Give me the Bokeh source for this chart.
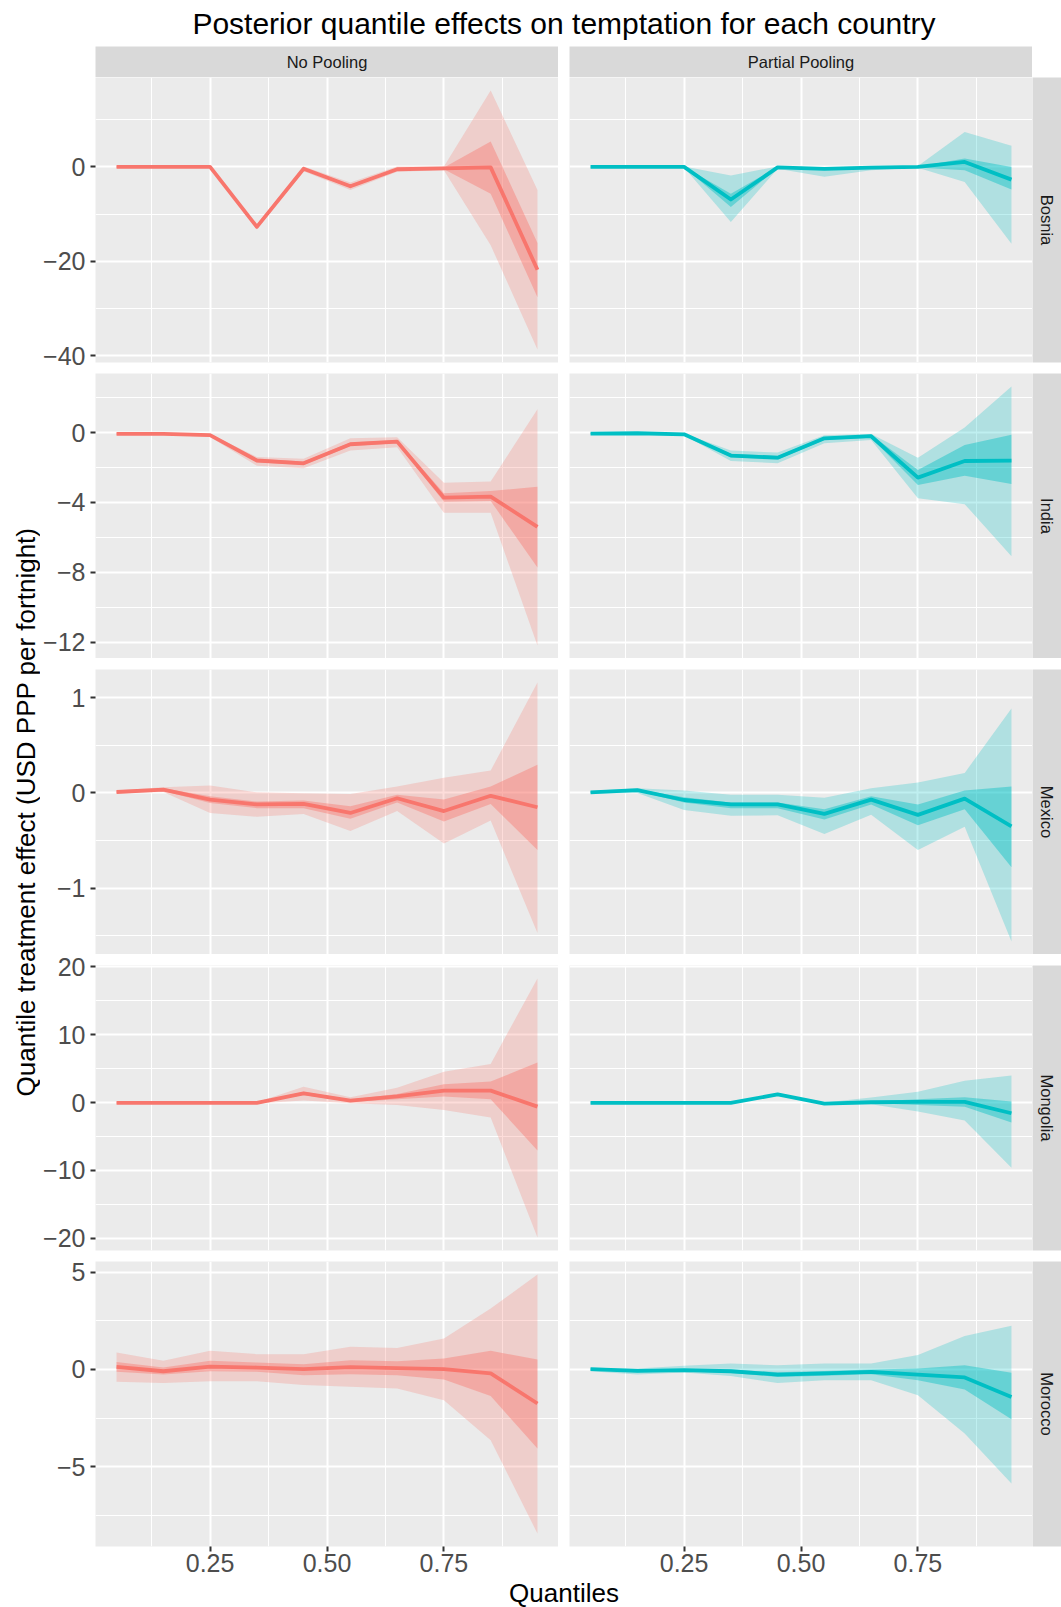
import math

from bokeh.core.properties import value
from bokeh.embed import file_html
from bokeh.layouts import column, row
from bokeh.models import FixedTicker, Range1d, Spacer
from bokeh.plotting import figure
from bokeh.resources import INLINE

# ---------------------------------------------------------------- data
quantiles = [0.05, 0.15, 0.25, 0.35, 0.45, 0.55, 0.65, 0.75, 0.85, 0.95]
countries = ["Bosnia", "India", "Mexico", "Mongolia", "Morocco"]
models = ["No Pooling", "Partial Pooling"]

bosnia_no_pooling = dict(
    median=[0.0, 0.0, 0.0, -12.7, -0.4, -4.1, -0.5, -0.3, -0.1, -21.8],
    lo50=[-0.1, -0.1, -0.1, -12.9, -0.6, -4.4, -0.7, -0.5, -5.7, -27.6],
    hi50=[0.1, 0.1, 0.1, -12.5, -0.2, -3.8, -0.3, -0.1, 5.4, -16.1],
    lo95=[-0.2, -0.2, -0.2, -13.2, -0.9, -4.9, -1.0, -0.7, -16.6, -38.7],
    hi95=[0.2, 0.2, 0.2, -12.2, 0.1, -3.3, 0.1, 0.1, 16.2, -4.9],
)
bosnia_partial_pooling = dict(
    median=[0.0, 0.0, 0.0, -6.9, -0.1, -0.4, -0.15, 0.0, 1.05, -2.7],
    lo50=[-0.05, -0.05, -0.05, -8.5, -0.2, -0.6, -0.3, -0.1, -0.7, -4.8],
    hi50=[0.05, 0.05, 0.05, -5.7, 0.0, -0.2, 0.0, 0.1, 1.8, 0.0],
    lo95=[-0.1, -0.1, -0.1, -11.7, -0.4, -2.1, -0.7, -0.2, -3.2, -16.3],
    hi95=[0.1, 0.1, 0.1, -1.8, 0.1, -0.1, 0.2, 0.2, 7.4, 4.5],
)
india_no_pooling = dict(
    median=[-0.08, -0.08, -0.15, -1.6, -1.76, -0.67, -0.52, -3.73, -3.67, -5.4],
    lo50=[-0.1, -0.1, -0.2, -1.7, -1.86, -0.77, -0.62, -3.96, -3.92, -7.73],
    hi50=[-0.06, -0.06, -0.1, -1.5, -1.66, -0.57, -0.42, -3.48, -3.35, -3.1],
    lo95=[-0.12, -0.12, -0.25, -1.9, -2.05, -1.03, -0.84, -4.6, -4.6, -12.2],
    hi95=[-0.04, -0.04, -0.08, -1.4, -1.5, -0.33, -0.27, -2.87, -2.81, 1.34],
)
india_partial_pooling = dict(
    median=[-0.06, -0.04, -0.1, -1.32, -1.44, -0.33, -0.21, -2.58, -1.63, -1.61],
    lo50=[-0.08, -0.06, -0.13, -1.42, -1.54, -0.42, -0.3, -3.0, -2.47, -2.95],
    hi50=[-0.04, -0.02, -0.07, -1.22, -1.34, -0.25, -0.13, -2.14, -0.71, -0.13],
    lo95=[-0.1, -0.08, -0.16, -1.63, -1.76, -0.61, -0.42, -3.77, -4.1, -7.08],
    hi95=[-0.02, 0.0, -0.05, -1.03, -1.15, -0.15, -0.08, -1.44, 0.29, 2.64],
)
mexico_no_pooling = dict(
    median=[0.01, 0.035, -0.07, -0.12, -0.115, -0.21, -0.056, -0.19, -0.03, -0.15],
    lo50=[0.0, 0.02, -0.105, -0.16, -0.16, -0.27, -0.1, -0.30, -0.116, -0.60],
    hi50=[0.02, 0.05, -0.035, -0.09, -0.08, -0.14, -0.02, -0.07, 0.067, 0.295],
    lo95=[-0.005, 0.01, -0.21, -0.25, -0.22, -0.40, -0.19, -0.53, -0.29, -1.47],
    hi95=[0.025, 0.06, 0.077, 0.007, -0.004, -0.01, 0.067, 0.16, 0.235, 1.16],
)
mexico_partial_pooling = dict(
    median=[0.007, 0.03, -0.074, -0.12, -0.12, -0.22, -0.07, -0.23, -0.06, -0.35],
    lo50=[0.0, 0.02, -0.10, -0.16, -0.16, -0.28, -0.12, -0.34, -0.17, -0.78],
    hi50=[0.015, 0.04, -0.046, -0.10, -0.10, -0.17, -0.035, -0.12, 0.025, 0.067],
    lo95=[-0.005, 0.0, -0.18, -0.24, -0.235, -0.43, -0.23, -0.60, -0.355, -1.56],
    hi95=[0.02, 0.05, 0.025, -0.02, -0.02, -0.05, 0.05, 0.11, 0.21, 0.886],
)
mongolia_no_pooling = dict(
    median=[-0.05, -0.05, -0.05, -0.05, 1.37, 0.3, 0.9, 1.76, 1.76, -0.6],
    lo50=[-0.1, -0.1, -0.1, -0.1, 1.1, 0.1, 0.5, 0.9, 0.5, -7.06],
    hi50=[0.0, 0.0, 0.0, 0.0, 1.6, 0.45, 1.27, 2.7, 3.1, 5.9],
    lo95=[-0.15, -0.15, -0.15, -0.15, 0.3, -0.1, -0.35, -1.08, -2.2, -19.9],
    hi95=[0.05, 0.05, 0.05, 0.05, 2.35, 0.8, 2.2, 4.56, 5.7, 18.3],
)
mongolia_partial_pooling = dict(
    median=[-0.05, -0.05, -0.05, -0.05, 1.2, -0.15, 0.05, 0.1, 0.1, -1.57],
    lo50=[-0.1, -0.1, -0.1, -0.1, 1.1, -0.25, -0.05, -0.35, -0.6, -2.95],
    hi50=[0.0, 0.0, 0.0, 0.0, 1.3, -0.05, 0.15, 0.5, 0.8, 0.15],
    lo95=[-0.15, -0.15, -0.15, -0.15, 1.0, -0.3, -0.25, -1.3, -2.65, -9.6],
    hi95=[0.05, 0.05, 0.05, 0.05, 1.4, 0.0, 0.74, 1.6, 3.2, 4.0],
)
morocco_no_pooling = dict(
    median=[0.14, -0.09, 0.15, 0.1, 0.02, 0.12, 0.07, 0.02, -0.2, -1.75],
    lo50=[-0.12, -0.26, -0.09, -0.12, -0.29, -0.24, -0.29, -0.51, -1.36, -4.07],
    hi50=[0.39, 0.1, 0.45, 0.36, 0.27, 0.48, 0.43, 0.57, 0.96, 0.51],
    lo95=[-0.63, -0.69, -0.6, -0.6, -0.8, -0.89, -0.98, -1.58, -3.64, -8.44],
    hi95=[0.87, 0.45, 0.96, 0.79, 0.79, 1.17, 1.11, 1.6, 3.14, 4.89],
)
morocco_partial_pooling = dict(
    median=[0.02, -0.07, -0.03, -0.09, -0.26, -0.2, -0.12, -0.26, -0.41, -1.41],
    lo50=[-0.03, -0.14, -0.09, -0.18, -0.38, -0.32, -0.24, -0.55, -1.03, -2.56],
    hi50=[0.06, 0.0, 0.03, 0.0, -0.14, -0.08, 0.0, 0.05, 0.22, -0.17],
    lo95=[-0.09, -0.26, -0.15, -0.34, -0.69, -0.55, -0.55, -1.32, -3.29, -5.87],
    hi95=[0.09, 0.05, 0.19, 0.31, 0.22, 0.31, 0.31, 0.74, 1.72, 2.25],
)

series = {
    ("Bosnia", "No Pooling"): bosnia_no_pooling,
    ("Bosnia", "Partial Pooling"): bosnia_partial_pooling,
    ("India", "No Pooling"): india_no_pooling,
    ("India", "Partial Pooling"): india_partial_pooling,
    ("Mexico", "No Pooling"): mexico_no_pooling,
    ("Mexico", "Partial Pooling"): mexico_partial_pooling,
    ("Mongolia", "No Pooling"): mongolia_no_pooling,
    ("Mongolia", "Partial Pooling"): mongolia_partial_pooling,
    ("Morocco", "No Pooling"): morocco_no_pooling,
    ("Morocco", "Partial Pooling"): morocco_partial_pooling,
}

x_ticks = [0.25, 0.5, 0.75]
x_tick_labels = ["0.25", "0.50", "0.75"]
y_ticks = {
    "Bosnia": [-40, -20, 0],
    "India": [-12, -8, -4, 0],
    "Mexico": [-1, 0, 1],
    "Mongolia": [-20, -10, 0, 10, 20],
    "Morocco": [-5, 0, 5],
}
y_tick_labels = {
    "Bosnia": ["\u221240", "\u221220", "0"],
    "India": ["\u221212", "\u22128", "\u22124", "0"],
    "Mexico": ["\u22121", "0", "1"],
    "Mongolia": ["\u221220", "\u221210", "0", "10", "20"],
    "Morocco": ["\u22125", "0", "5"],
}

title = "Posterior quantile effects on temptation for each country"
x_title = "Quantiles"
y_title = "Quantile treatment effect (USD PPP per fortnight)"

# ---------------------------------------------------------------- style
FONT = "Liberation Sans"
COLORS = {"No Pooling": "#F8766D", "Partial Pooling": "#00BFC4"}
PANEL_BG = "#EBEBEB"
STRIP_BG = "#D9D9D9"
TICK_FONT_SIZE = "25px"

TOTAL_H = 1607
YLAB_W = 40
LEFT_AXIS = 55
PANEL_W = 463
PANEL_H = 285
COL_GAP = 11
STRIP_W = 29
STRIP_H = 31
TITLE_H = 46
X_AXIS_H = 32
# white space above / below each row of panels (each 11 px row gap is split
# so that tick labels sitting at a panel edge have room)
ROW_BORDERS = {
    "Bosnia": (0, 8),
    "India": (3, 0),
    "Mexico": (11, 0),
    "Mongolia": (11, 2),
    "Morocco": (9, X_AXIS_H),
}
MAIN_W = LEFT_AXIS + PANEL_W + COL_GAP + PANEL_W + STRIP_W
ROWS_H = sum(PANEL_H + t + b for t, b in ROW_BORDERS.values())
X_LAB_H = TOTAL_H - (TITLE_H + STRIP_H + ROWS_H)
PANELS_CENTER = LEFT_AXIS + (2 * PANEL_W + COL_GAP) / 2


def minor_between(ticks, lo, hi):
    step = ticks[1] - ticks[0]
    cands = [t - step / 2 for t in ticks] + [ticks[-1] + step / 2]
    return [c for c in cands if lo <= c <= hi]


def row_range(country):
    lo = min(min(series[(country, m)]["lo95"]) for m in models)
    hi = max(max(series[(country, m)]["hi95"]) for m in models)
    pad = 0.05 * (hi - lo)
    return lo - pad, hi + pad


x_lo = quantiles[0] - 0.05 * (quantiles[-1] - quantiles[0])
x_hi = quantiles[-1] + 0.05 * (quantiles[-1] - quantiles[0])


def blank(w, h, top=0, bottom=0, bg="white"):
    p = figure(frame_width=w, frame_height=h, x_range=Range1d(0, w), y_range=Range1d(0, h),
               x_axis_location=None, y_axis_location=None, tools="", toolbar_location=None,
               output_backend="svg", min_border=0, min_border_top=top,
               min_border_bottom=bottom)
    p.grid.visible = False
    p.outline_line_color = None
    p.background_fill_color = bg
    p.border_fill_color = "white"
    return p


def style_axis(ax, ticks, labels):
    ax.ticker = FixedTicker(ticks=ticks, minor_ticks=[])
    ax.major_label_overrides = dict(zip(ticks, labels))
    ax.axis_line_color = None
    ax.major_tick_line_color = "#333333"
    ax.major_tick_line_width = 2
    ax.major_tick_out = 5
    ax.major_tick_in = 0
    ax.minor_tick_out = 0
    ax.minor_tick_line_color = None
    ax.major_label_text_font = FONT
    ax.major_label_text_font_size = TICK_FONT_SIZE
    ax.major_label_text_color = "#4D4D4D"
    ax.major_label_text_line_height = 1.0


def panel(country, model, show_y, show_x):
    lo, hi = row_range(country)
    top, bottom = ROW_BORDERS[country]
    p = figure(frame_width=PANEL_W, frame_height=PANEL_H,
               x_range=Range1d(x_lo, x_hi), y_range=Range1d(lo, hi),
               x_axis_location="below" if show_x else None,
               y_axis_location="left" if show_y else None,
               tools="", toolbar_location=None, output_backend="svg",
               min_border=0, min_border_top=top, min_border_bottom=bottom,
               min_border_left=LEFT_AXIS if show_y else 0)
    p.background_fill_color = PANEL_BG
    p.border_fill_color = "white"
    p.outline_line_color = None

    yt = y_ticks[country]
    p.xgrid.ticker = FixedTicker(ticks=x_ticks, minor_ticks=minor_between(x_ticks, x_lo, x_hi))
    p.ygrid.ticker = FixedTicker(ticks=yt, minor_ticks=minor_between(yt, lo, hi))
    for g in p.grid:
        g.grid_line_color = "white"
        g.grid_line_width = 2
        g.minor_grid_line_color = "white"
        g.minor_grid_line_width = 1

    if show_y:
        style_axis(p.yaxis[0], yt, y_tick_labels[country])
        p.yaxis[0].major_label_standoff = 5
    if show_x:
        style_axis(p.xaxis[0], x_ticks, x_tick_labels)
        p.xaxis[0].major_label_standoff = 2

    d = series[(country, model)]
    c = COLORS[model]
    p.varea(x=quantiles, y1=d["lo95"], y2=d["hi95"], fill_color=c, fill_alpha=0.25)
    p.varea(x=quantiles, y1=d["lo50"], y2=d["hi50"], fill_color=c, fill_alpha=0.42)
    p.line(x=quantiles, y=d["median"], line_color=c, line_width=3.8, line_join="round")
    return p


def strip(w, h, text, angle, top=0, bottom=0):
    p = blank(w, h, top=top, bottom=bottom, bg=STRIP_BG)
    p.text(x=[w / 2], y=[h / 2], text=[text], angle=angle, text_align="center",
           text_baseline="middle", text_font=value(FONT), text_font_size="16.5px",
           text_color="#1A1A1A")
    return p


# ---------------------------------------------------------------- layout
title_fig = blank(MAIN_W, TITLE_H)
title_fig.text(x=[PANELS_CENTER], y=[TITLE_H - 23], text=[title], text_align="center",
               text_baseline="middle", text_font=value(FONT), text_font_size="30px",
               text_color="black")

strip_row = row(
    Spacer(width=LEFT_AXIS, height=STRIP_H),
    strip(PANEL_W, STRIP_H, models[0], 0),
    Spacer(width=COL_GAP, height=STRIP_H),
    strip(PANEL_W, STRIP_H, models[1], 0),
    Spacer(width=STRIP_W, height=STRIP_H),
)

items = [title_fig, strip_row]
for i, country in enumerate(countries):
    last = i == len(countries) - 1
    top, bottom = ROW_BORDERS[country]
    items.append(row(
        panel(country, models[0], True, last),
        Spacer(width=COL_GAP, height=PANEL_H + top + bottom),
        panel(country, models[1], False, last),
        strip(STRIP_W, PANEL_H, country, -math.pi / 2, top=top, bottom=bottom),
    ))

x_title_fig = blank(MAIN_W, X_LAB_H)
x_title_fig.text(x=[PANELS_CENTER], y=[X_LAB_H - 14], text=[x_title], text_align="center",
                 text_baseline="middle", text_font=value(FONT), text_font_size="26px",
                 text_color="black")
items.append(x_title_fig)

y_title_fig = blank(YLAB_W, TOTAL_H)
panels_mid = TITLE_H + STRIP_H + ROWS_H / 2 - X_AXIS_H / 2
y_title_fig.text(x=[25], y=[TOTAL_H - panels_mid], text=[y_title], angle=math.pi / 2,
                 text_align="center", text_baseline="middle", text_font=value(FONT),
                 text_font_size="26px", text_color="black")

layout = row(y_title_fig, column(*items))

open("out.html", "w", encoding="utf-8").write(file_html(layout, INLINE))
